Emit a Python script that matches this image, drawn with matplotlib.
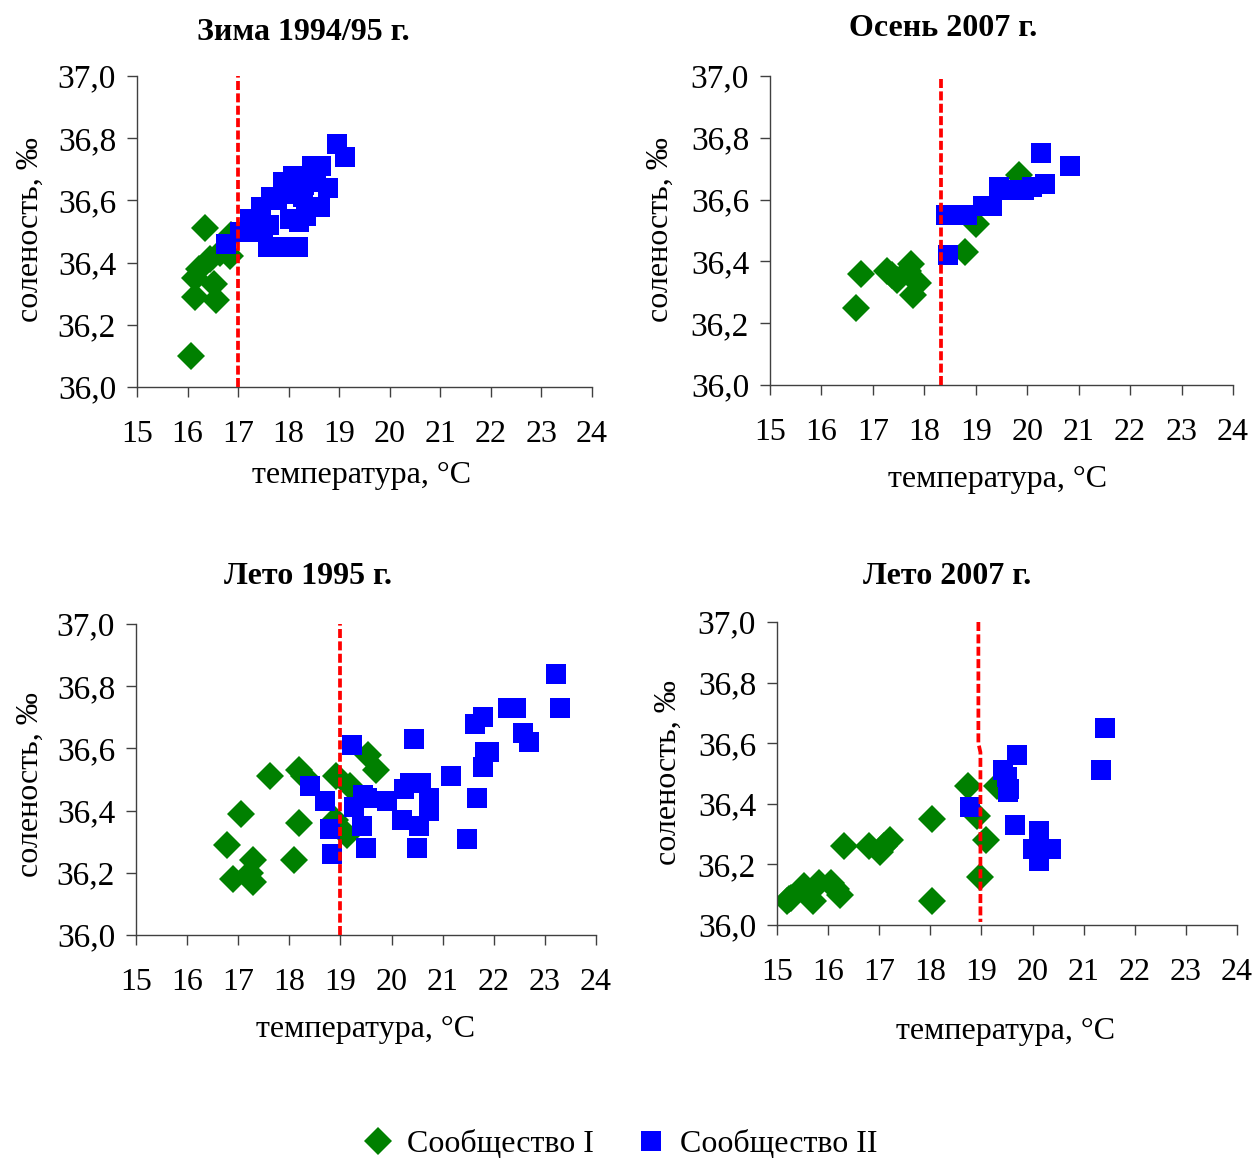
import numpy as np
import matplotlib
matplotlib.use("Agg")
import matplotlib.pyplot as plt
from matplotlib.lines import Line2D
from matplotlib.ticker import FuncFormatter

plt.rcParams['font.family'] = ['Liberation Serif', 'DejaVu Serif']

W, H = 1256, 1158

# -----------------------------
# Data: temperature (°C) and salinity (‰)
# -----------------------------
# Зима 1994/95
w95_t1 = [16.06, 16.14, 16.14, 16.22, 16.34, 16.44, 16.52, 16.57, 16.64, 16.83, 16.85]
w95_s1 = [36.10, 36.29, 36.35, 36.38, 36.51, 36.41, 36.33, 36.28, 36.43, 36.42, 36.49]
w95_t2 = [16.77, 17.03, 17.23, 17.30, 17.46, 17.50, 17.59, 17.62, 17.66, 17.76, 17.85,
          17.89, 17.95, 18.02, 18.08, 18.10, 18.18, 18.20, 18.29, 18.30, 18.35, 18.45,
          18.47, 18.55, 18.61, 18.64, 18.77, 18.96, 19.11]
w95_s2 = [36.46, 36.50, 36.54, 36.50, 36.58, 36.50, 36.45, 36.52, 36.61, 36.60, 36.45,
          36.66, 36.63, 36.54, 36.68, 36.62, 36.45, 36.53, 36.61, 36.65, 36.55, 36.58,
          36.71, 36.66, 36.58, 36.71, 36.64, 36.78, 36.74]

# Осень 2007
a07_t1 = [16.68, 16.76, 17.27, 17.38, 17.46, 17.69, 17.75, 17.88, 17.77, 18.79, 19.00, 19.84]
a07_s1 = [36.25, 36.36, 36.37, 36.355, 36.34, 36.37, 36.39, 36.33, 36.29, 36.43, 36.52, 36.68]
a07_t2 = [18.42, 18.62, 18.82, 18.46, 19.15, 19.32, 19.46, 19.60, 19.80, 19.93, 20.10,
          20.35, 20.27, 20.84]
a07_s2 = [36.55, 36.55, 36.55, 36.42, 36.58, 36.58, 36.64, 36.63, 36.63, 36.63, 36.64,
          36.65, 36.75, 36.71]

# Лето 1995
s95_t1 = [16.78, 16.89, 17.06, 17.24, 17.29, 17.29, 17.63, 18.10, 18.18, 18.18, 18.28,
          18.92, 18.90, 19.12, 19.18, 19.54, 19.70]
s95_s1 = [36.29, 36.18, 36.39, 36.20, 36.24, 36.17, 36.51, 36.24, 36.53, 36.36, 36.51,
          36.51, 36.37, 36.32, 36.48, 36.58, 36.53]
s95_t2 = [18.41, 18.69, 18.80, 18.84, 19.23, 19.26, 19.42, 19.45, 19.50, 19.52, 19.91,
          20.21, 20.24, 20.37, 20.44, 20.50, 20.53, 20.57, 20.74, 20.74, 21.17, 21.48,
          21.63, 21.68, 21.79, 21.79, 21.83, 21.91, 22.28, 22.43, 22.57, 22.68, 23.22, 23.30]
s95_s2 = [36.48, 36.43, 36.34, 36.26, 36.61, 36.41, 36.35, 36.45, 36.28, 36.44, 36.43,
          36.37, 36.47, 36.49, 36.63, 36.28, 36.35, 36.49, 36.44, 36.40, 36.51, 36.31,
          36.68, 36.44, 36.70, 36.54, 36.59, 36.59, 36.73, 36.73, 36.65, 36.62, 36.84, 36.73]

# Лето 2007
s07_t1 = [15.20, 15.23, 15.28, 15.52, 15.71, 15.82, 16.06, 16.15, 16.23, 16.32, 16.80,
          17.01, 17.10, 17.22, 18.03, 18.03, 18.74, 18.91, 19.09, 18.97, 19.30]
s07_s1 = [36.08, 36.086, 36.09, 36.13, 36.08, 36.14, 36.14, 36.12, 36.10, 36.26, 36.26,
          36.24, 36.26, 36.28, 36.35, 36.08, 36.46, 36.36, 36.28, 36.16, 36.46]
s07_t2 = [18.77, 19.42, 19.50, 19.54, 19.51, 19.70, 19.66, 20.13, 20.01, 20.13, 20.37,
          21.33, 21.41]
s07_s2 = [36.39, 36.51, 36.49, 36.45, 36.44, 36.56, 36.33, 36.31, 36.25, 36.21, 36.25,
          36.51, 36.65]

# boundary lines (dashed red)
bound_w95 = ([17.0, 17.0], [36.0, 37.0])
bound_a07 = ([18.32, 18.32], [36.0, 37.0])
bound_s95 = ([19.0, 19.0], [36.0, 37.0])
bound_s07 = ([18.94, 18.94, 18.98, 18.98], [37.0, 36.6, 36.57, 36.01])

titles = ["Зима 1994/95 г.", "Осень 2007 г.", "Лето 1995 г.", "Лето 2007 г."]
x_ticks = list(range(15, 25))
y_ticks = [36.0, 36.2, 36.4, 36.6, 36.8, 37.0]

panels = [
    (w95_t1, w95_s1, w95_t2, w95_s2, bound_w95),
    (a07_t1, a07_s1, a07_t2, a07_s2, bound_a07),
    (s95_t1, s95_s1, s95_t2, s95_s2, bound_s95),
    (s07_t1, s07_s1, s07_t2, s07_s2, bound_s07),
]

# axes boxes in pixels: left, top, right, bottom
boxes = [(137, 76, 592, 387), (770, 76, 1233, 385),
         (136, 624, 596, 935), (777, 622, 1237, 925)]
title_pos = [(303, 32), (943, 28), (308, 577), (947, 577)]
xlabel_pos = [(362, 476), (998, 480), (366, 1030), (1006, 1032)]
ylabel_pos = [(30, 230), (660, 230), (30, 785), (668, 773)]

GREEN = '#008000'
BLUE = '#0000FF'
RED = '#FF0000'

fig = plt.figure(figsize=(W / 100, H / 100), dpi=100)

comma = FuncFormatter(lambda v, p: f"{v:.1f}".replace('.', ','))

for i, (t1, s1, t2, s2, bnd) in enumerate(panels):
    l, t, r, b = boxes[i]
    ax = fig.add_axes([l / W, 1 - b / H, (r - l) / W, (b - t) / H])
    ax.plot(t1, s1, 'D', color=GREEN, ms=14, mew=0, zorder=2)
    ax.plot(t2, s2, 's', color=BLUE, ms=15, mew=0, zorder=3)
    ax.plot(bnd[0], bnd[1], color=RED, lw=2.7, dashes=(2.4, 0.9), zorder=4)

    ax.set_xlim(15, 24)
    ax.set_ylim(36.0, 37.0)
    ax.set_xticks(x_ticks)
    ax.set_yticks(y_ticks)
    ax.yaxis.set_major_formatter(comma)
    for side in ['top', 'right']:
        ax.spines[side].set_visible(False)
    for side in ['left', 'bottom']:
        ax.spines[side].set_color('#404040')
        ax.spines[side].set_linewidth(1.0)
    ax.tick_params(axis='x', length=7, width=1, color='#404040', pad=17, labelsize=23)
    ax.tick_params(axis='y', length=7, width=1, color='#404040', pad=8, labelsize=24)
    for lab in ax.get_xticklabels() + ax.get_yticklabels():
        lab.set_clip_on(False)

    fig.text(title_pos[i][0] / W, 1 - title_pos[i][1] / H, titles[i],
             ha='center', va='center', fontsize=23, fontweight='bold')
    fig.text(xlabel_pos[i][0] / W, 1 - xlabel_pos[i][1] / H, "температура, °С",
             ha='center', va='center', fontsize=23)
    fig.text(ylabel_pos[i][0] / W, 1 - ylabel_pos[i][1] / H, "соленость, ‰",
             ha='center', va='center', fontsize=23, rotation=90)

handles = [Line2D([], [], ls='none', marker='D', color=GREEN, ms=14, mew=0),
           Line2D([], [], ls='none', marker='s', color=BLUE, ms=14, mew=0)]
fig.legend(handles, ["Сообщество I", "Сообщество II"], loc='center',
           bbox_to_anchor=(620 / W, 1 - 1144 / H), ncol=2, frameon=False,
           fontsize=23, handlelength=1.0, handletextpad=0.4, columnspacing=1.3)

fig.savefig("out.png", dpi=100)
